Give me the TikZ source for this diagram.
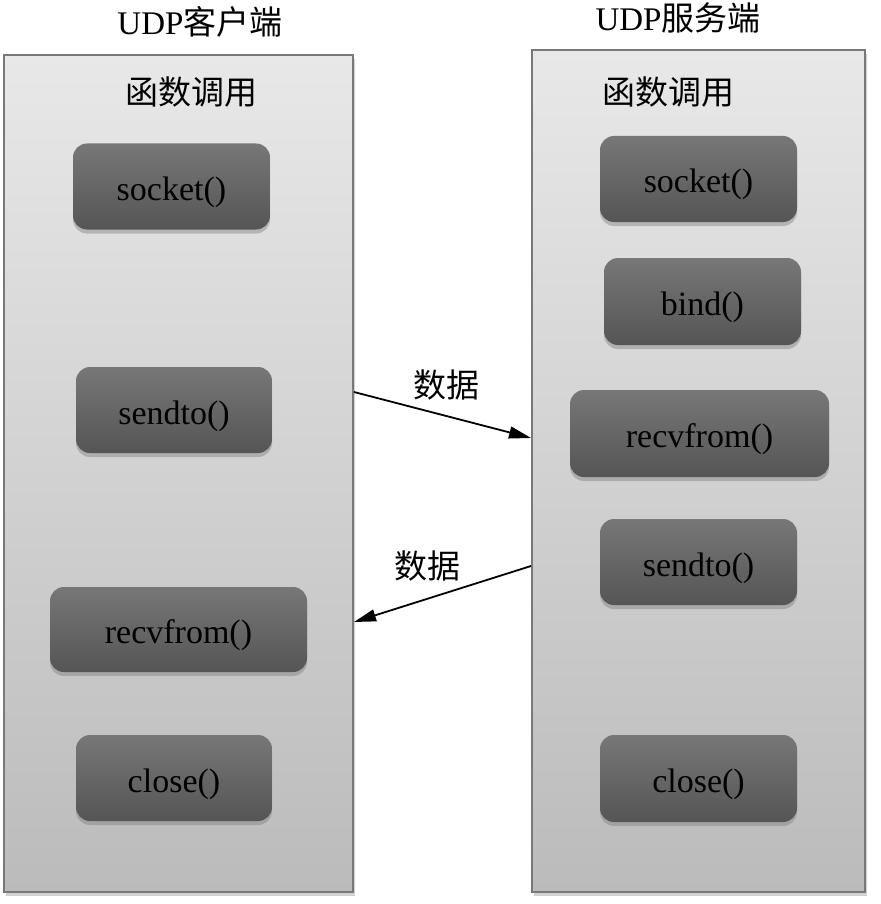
\documentclass[tikz,border=0pt]{standalone}
\usepackage{fontspec}
\setmainfont{Liberation Serif}
\newfontfamily\cjk{Noto Sans CJK SC}
\usetikzlibrary{shadows,arrows.meta}
\definecolor{panelTop}{HTML}{E8E8E8}
\definecolor{panelBot}{HTML}{BBBBBB}
\definecolor{panelEdge}{HTML}{787878}
\definecolor{btnTop}{HTML}{777777}
\definecolor{btnBot}{HTML}{555555}
\tikzset{
  panel/.style={draw=panelEdge, line width=2pt, top color=panelTop, bottom color=panelBot,
    minimum width=#1, inner sep=0pt,
    drop shadow={shadow xshift=2pt, shadow yshift=-4pt, opacity=0.35}},
  btn/.style={rounded corners=14pt, top color=btnTop, bottom color=btnBot, draw=none,
    minimum width=#1, minimum height=86pt, inner sep=0pt,
    text height=28pt, text depth=0pt,
    font=\fontsize{34}{34}\selectfont, text=black,
    drop shadow={shadow xshift=0pt, shadow yshift=-4pt, opacity=0.45}},
  ttl/.style={font=\fontsize{33}{33}\selectfont, inner sep=0pt},
  flow/.style={line width=1.8pt, -{Triangle[length=22pt,width=12pt]}},
}
\begin{document}
\begin{tikzpicture}[x=1pt,y=-1pt]
\useasboundingbox (0,0) rectangle (880,904);
\fill[white] (0,0) rectangle (880,904);
% panels
\node[panel=349pt, minimum height=837pt] (lp) at (178.5,473.5) {};
\node[panel=333pt, minimum height=842pt] (rp) at (698.5,471) {};
% titles
\node[ttl] (lt) at (200,22) {UDP{\cjk 客户端}};
\node[ttl] (rt) at (678,18) {UDP{\cjk 服务端}};
\node[ttl] (lh) at (191,92) {\cjk 函数调用};
\node[ttl] (rh) at (668,92) {\cjk 函数调用};
% left buttons
\node[btn=197pt] (lsock) at (171.5,186.5) {socket()};
\node[btn=196pt] (lsend) at (174,410) {sendto()};
\node[btn=257pt, minimum height=85pt] (lrecv) at (178.5,629.5) {recvfrom()};
\node[btn=196pt] (lclose) at (174,778) {close()};
% right buttons
\node[btn=197pt] (rsock) at (698.5,179) {socket()};
\node[btn=197pt, minimum height=87pt] (rbind) at (702.5,301.5) {bind()};
\node[btn=259pt, minimum height=87pt] (rrecv) at (699.5,433.5) {recvfrom()};
\node[btn=197pt] (rsend) at (698.5,562) {sendto()};
\node[btn=197pt, minimum height=87pt] (rclose) at (698.5,778.5) {close()};
% arrows
\coordinate (a1s) at (lp.east |- 0,392);
\coordinate (a1e) at (rp.west |- 0,438);
\coordinate (a2s) at (rp.west |- 0,566);
\coordinate (a2e) at (lp.east |- 0,622);
\fill[white] (355,340) rectangle (530,660);
\draw[flow] (a1s) -- (a1e);
\draw[flow] (a2s) -- (a2e);
\node[ttl] (d1) at (446,385) {\cjk 数据};
\node[ttl] (d2) at (427,566) {\cjk 数据};
\end{tikzpicture}
\end{document}
